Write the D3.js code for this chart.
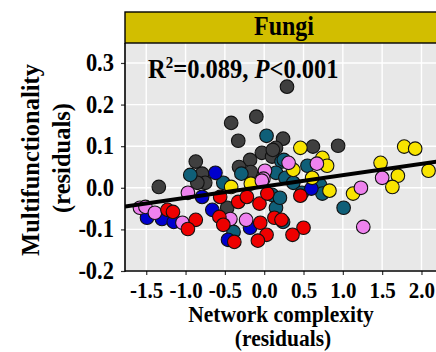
<!DOCTYPE html>
<html>
<head>
<meta charset="utf-8">
<script src="https://cdn.jsdelivr.net/npm/d3@7"></script>
<style>
  html, body { margin: 0; padding: 0; background: #fff; }
  text { font-family: "Liberation Serif", "Times New Roman", serif; font-weight: bold; }
</style>
</head>
<body>
<div id="chart"></div>
<script>
// residuals, one array of [x, y] per point colour
const darkPts = [
  [0.29, 0.243], [-0.42, 0.156], [-0.10, 0.171], [-0.33, 0.113], [0.24, 0.118],
  [-0.03, 0.084], [0.10, 0.075], [0.15, 0.096], [-0.18, 0.067], [-0.32, 0.050],
  [-0.87, 0.063], [-0.79, 0.034], [-0.75, 0.012], [-0.85, 0.012], [-1.34, 0.002],
  [-0.17, 0.038], [-0.47, -0.048], [0.62, 0.099], [0.94, 0.101], [0.11, 0.091]
];
const tealPts = [
  [0.03, 0.125], [0.22, 0.063], [-0.94, 0.031], [-0.29, 0.034], [0.15, 0.036],
  [-0.52, 0.012], [0.10, -0.017], [0.15, -0.048], [0.24, -0.082], [-0.39, -0.106],
  [0.25, 0.067], [0.55, 0.053], [0.27, 0.024], [0.37, 0.012], [0.48, -0.012],
  [0.71, 0.007], [0.74, -0.014], [1.01, -0.048], [0.20, -0.024]
];
const bluePts = [
  [-0.62, 0.036], [-0.79, -0.022], [-1.49, -0.072], [-1.30, -0.075], [-1.15, -0.082],
  [-0.66, -0.053], [-0.46, -0.125], [-0.18, -0.096], [0.60, -0.002]
];
const yellowPts = [
  [-0.17, 0.010], [-0.42, 0.002], [0.46, 0.096], [0.74, 0.072], [0.80, 0.053],
  [0.37, 0.043], [0.61, 0.024], [1.48, 0.060], [1.78, 0.099], [1.92, 0.094],
  [2.09, 0.041], [1.70, 0.029], [1.63, 0.002], [1.13, -0.014], [0.83, -0.007]
];
const pinkPts = [
  [0.01, 0.041], [-0.01, 0.022], [-1.58, -0.048], [-1.51, -0.046], [-1.39, -0.060],
  [-1.04, -0.084], [-0.97, -0.012], [-0.43, -0.075], [-0.23, -0.077], [-0.03, 0.017],
  [0.67, 0.058], [0.31, 0.060], [1.23, 0.000], [1.50, 0.024], [1.26, -0.094]
];
const redPts = [
  [-1.23, -0.053], [-1.16, -0.058], [-0.87, -0.077], [-0.97, -0.099], [-0.56, -0.022],
  [-0.33, -0.034], [-0.22, -0.022], [-0.06, -0.038], [-0.57, -0.070], [-0.52, -0.089],
  [-0.38, -0.130], [-0.05, -0.084], [0.03, -0.113], [-0.08, -0.127], [0.13, -0.072],
  [0.04, -0.014], [0.50, -0.096], [0.36, -0.113], [0.46, -0.019], [0.22, -0.077]
];
const fitLine = [[-1.77, -0.045], [2.35, 0.067]];
const xTicks = [-1.5, -1.0, -0.5, 0.0, 0.5, 1.0, 1.5, 2.0];
const yTicks = [-0.2, -0.1, 0.0, 0.1, 0.2, 0.3];

const groups = [
  { pts: darkPts, color: '#3f3f3f' },
  { pts: tealPts, color: '#0f5f78' },
  { pts: bluePts, color: '#0000cd' },
  { pts: yellowPts, color: '#f8e400' },
  { pts: pinkPts, color: '#ee82ee' },
  { pts: redPts, color: '#ee0000' }
];

const width = 436, height = 352;
const panel = { left: 125, right: 449, top: 43, bottom: 271 };
const stretch = 1.1; // the source figure is a little taller than wide

const svg = d3.select('#chart').append('svg')
  .attr('width', width)
  .attr('height', height)
  .style('display', 'block');

const x = d3.scaleLinear().domain([-1.77, 2.35]).range([panel.left, panel.right]);
const y = d3.scaleLinear().domain([-0.2, 0.348]).range([panel.bottom, panel.top]);

svg.append('clipPath').attr('id', 'clip')
  .append('rect')
  .attr('x', panel.left).attr('y', panel.top)
  .attr('width', panel.right - panel.left).attr('height', panel.bottom - panel.top);

// panel background + grid
svg.append('rect')
  .attr('x', panel.left).attr('y', panel.top)
  .attr('width', panel.right - panel.left).attr('height', panel.bottom - panel.top)
  .attr('fill', '#e8e8e8');

const grid = svg.append('g').attr('clip-path', 'url(#clip)');
grid.selectAll('.gx').data(xTicks).enter().append('line')
  .attr('x1', d => x(d)).attr('x2', d => x(d))
  .attr('y1', panel.top).attr('y2', panel.bottom)
  .attr('stroke', '#fff').attr('stroke-width', 1.4);
grid.selectAll('.gy').data(yTicks).enter().append('line')
  .attr('x1', panel.left).attr('x2', panel.right)
  .attr('y1', d => y(d)).attr('y2', d => y(d))
  .attr('stroke', '#fff').attr('stroke-width', 1.4);

// points
const plot = svg.append('g').attr('clip-path', 'url(#clip)');
groups.forEach(g => {
  plot.selectAll(null).data(g.pts).enter().append('circle')
    .attr('cx', d => x(d[0]))
    .attr('cy', d => y(d[1]))
    .attr('r', 6.8)
    .attr('fill', g.color)
    .attr('stroke', '#111')
    .attr('stroke-width', 1.1);
});

// regression line
plot.append('path')
  .datum(fitLine)
  .attr('d', d3.line().x(d => x(d[0])).y(d => y(d[1])))
  .attr('fill', 'none')
  .attr('stroke', '#000')
  .attr('stroke-width', 4);

// axes
const yAxis = svg.append('g')
  .attr('transform', `translate(${panel.left},0)`)
  .call(d3.axisLeft(y).tickValues(yTicks).tickSize(4));
const xAxis = svg.append('g')
  .attr('transform', `translate(0,${panel.bottom})`)
  .call(d3.axisBottom(x).tickValues(xTicks).tickSize(4));

[yAxis, xAxis].forEach(a => {
  a.select('.domain').remove();
  a.selectAll('.tick line').attr('stroke', '#333').attr('stroke-width', 1.2);
  a.selectAll('.tick text')
    .attr('fill', '#000')
    .style('font-family', '"Liberation Serif", serif')
    .style('font-weight', 'bold')
    .style('font-size', '22.5px')
    .text(d => d3.format('.1f')(d).replace('−', '-'));
});
yAxis.selectAll('.tick text')
  .attr('x', null).attr('y', null).attr('dy', null)
  .attr('transform', `translate(-11,7.5) scale(1,${stretch})`);
xAxis.selectAll('.tick text')
  .attr('y', null).attr('dy', null)
  .style('font-size', '21px')
  .attr('transform', `translate(0,27) scale(1,${stretch})`);

svg.append('line')
  .attr('x1', panel.left).attr('x2', panel.left)
  .attr('y1', panel.top).attr('y2', panel.bottom + 0.75)
  .attr('stroke', '#000').attr('stroke-width', 1.6);
svg.append('line')
  .attr('x1', panel.left).attr('x2', panel.right)
  .attr('y1', panel.bottom).attr('y2', panel.bottom)
  .attr('stroke', '#000').attr('stroke-width', 1.6);

// strip
svg.append('rect')
  .attr('x', panel.left).attr('y', 12)
  .attr('width', panel.right - panel.left).attr('height', panel.top - 12)
  .attr('fill', '#d2be00')
  .attr('stroke', '#000').attr('stroke-width', 1.4);
svg.append('text')
  .attr('transform', `translate(284,35) scale(1,${stretch})`)
  .attr('text-anchor', 'middle')
  .style('font-size', '24px')
  .text('Fungi');

// annotation
const ann = svg.append('text')
  .attr('transform', `translate(148,78) scale(1,${stretch})`)
  .style('font-size', '24.5px');
ann.append('tspan').text('R');
ann.append('tspan').attr('dy', -9).style('font-size', '15px').text('2');
ann.append('tspan').attr('dy', 9).text('=0.089, ');
ann.append('tspan').style('font-style', 'italic').text('P');
ann.append('tspan').text('<0.001');

// axis titles
svg.append('text').attr('transform', 'translate(281,322) scale(1,1.04)')
  .attr('text-anchor', 'middle').style('font-size', '21.5px').text('Network complexity');
svg.append('text').attr('transform', 'translate(283,346) scale(1,1.04)')
  .attr('text-anchor', 'middle').style('font-size', '21.5px').text('(residuals)');

const cy = 160;
svg.append('text').attr('transform', `translate(39,${cy}) rotate(-90)`)
  .attr('text-anchor', 'middle').style('font-size', '24.5px').text('Multifunctionality');
svg.append('text').attr('transform', `translate(70,${cy - 2}) rotate(-90)`)
  .attr('text-anchor', 'middle').style('font-size', '24.5px').text('(residuals)');
</script>
</body>
</html>
